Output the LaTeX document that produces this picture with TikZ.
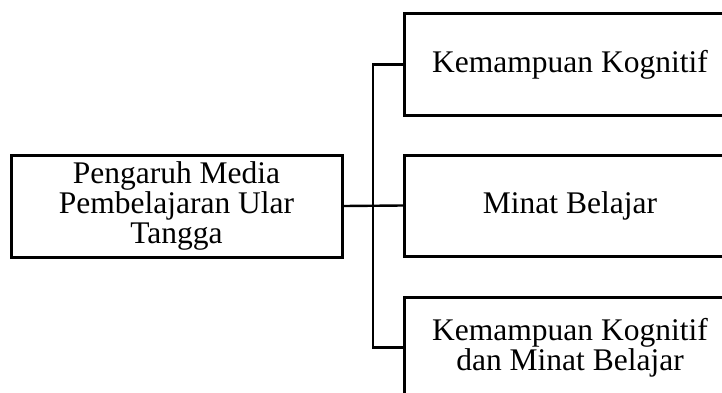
\documentclass[tikz,border=0pt]{standalone}
\usepackage{fontspec}
\setmainfont{Liberation Serif}
\begin{document}
\begin{tikzpicture}[x=1pt,y=1pt,
  box/.style={draw=black, line width=3pt, minimum width=331pt, minimum height=101pt,
    align=center, inner sep=0pt, font=\fontsize{31.5}{30}\selectfont},
  conn/.style={draw=black, line width=2.4pt}]
\useasboundingbox (0,0) rectangle (722,392);
\clip (0,0) rectangle (722,392);
\fill[white] (0,0) rectangle (722,392);
\node[box, minimum height=102pt] (lb) at (176.5,186) {Pengaruh Media\\Pembelajaran Ular\\Tangga};
\node[box] (tb) at (570,327.5) {Kemampuan Kognitif};
\node[box] (mb) at (570,186.5) {Minat Belajar};
\node[box] (bb) at (570,44.5) {Kemampuan Kognitif\\dan Minat Belajar};
\coordinate (jt) at (373,0 |- tb.west);
\draw[conn] (lb.east) -- (mb.west);
\draw[conn] (tb.west) -- (jt) |- (bb.west);
\end{tikzpicture}
\end{document}
